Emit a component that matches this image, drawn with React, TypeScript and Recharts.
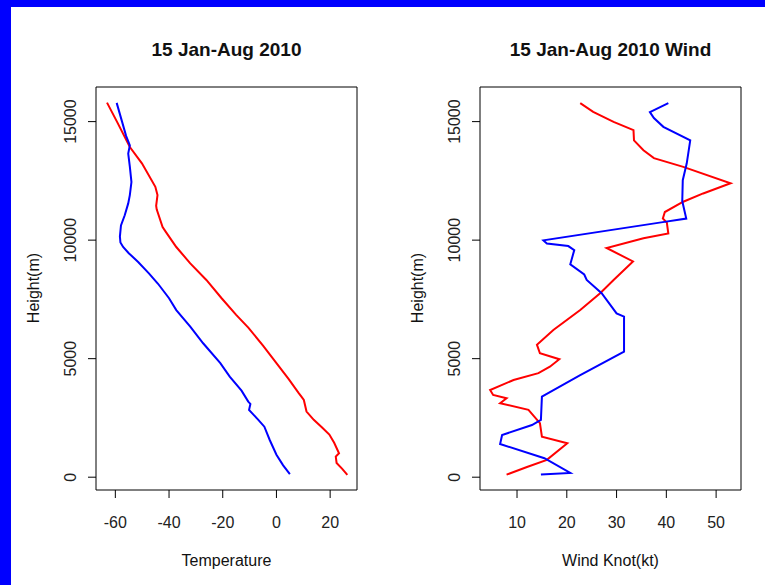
import React from "react";
import { ScatterChart, Scatter, XAxis, YAxis, ReferenceArea } from "recharts";

// temperature profile (deg C vs height m)
const tempRed = [
  [-63.1, 15800], [-59.4, 15000], [-54.6, 13930], [-50.1, 13240], [-45.1, 12250],
  [-44.3, 11900], [-44.8, 11450], [-44.6, 11300], [-42.4, 10550], [-41.2, 10350],
  [-37.3, 9710], [-32.1, 9020], [-26.1, 8320], [-20.5, 7560], [-15, 6850],
  [-10.4, 6300], [-5, 5550], [0, 4810], [4.5, 4150], [8.3, 3550], [9.3, 3400],
  [10.2, 3260], [11.2, 2770], [13.9, 2420], [17, 2100], [19.7, 1800], [21.5, 1450],
  [23.3, 1010], [22.1, 870], [22.4, 600], [24.5, 350], [26.4, 100],
];
const tempBlue = [
  [-59.5, 15790], [-57.5, 15000], [-56, 14400], [-54.6, 14000], [-55.2, 13650],
  [-54.6, 13100], [-54.0, 12450], [-54.6, 11900], [-55.2, 11550], [-56.5, 11050],
  [-57.9, 10620], [-58.3, 10150], [-58.1, 9900], [-57.1, 9710], [-55, 9450],
  [-51.5, 9080], [-47.5, 8600], [-44.1, 8160], [-40, 7550], [-37.3, 7050],
  [-32.1, 6350], [-27.3, 5650], [-20.9, 4810], [-17.4, 4240], [-13, 3650],
  [-10.5, 3190], [-9.7, 3090], [-10.2, 2840], [-7, 2450], [-4.5, 2130],
  [-2.5, 1570], [0, 950], [2.5, 500], [5, 130],
];

// wind profile (knots vs height m)
const windRed = [
  [22.7, 15780], [25.3, 15410], [29.4, 14990], [33.4, 14640], [33.5, 14210],
  [35.4, 13790], [37.5, 13460], [43.4, 13090], [52.9, 12400], [47.4, 11970],
  [43.4, 11620], [39.7, 11185], [39.3, 10910], [40.1, 10740], [40.4, 10280],
  [35.4, 10080], [28.0, 9670], [33.3, 9100], [29.4, 8320], [26.7, 7760],
  [22.7, 7050], [17.3, 6210], [14.0, 5590], [14.6, 5230], [18.5, 4975],
  [16.6, 4660], [14.3, 4390], [9.3, 4100], [4.6, 3680], [5.2, 3470], [7.9, 3330],
  [6.6, 3120], [12.3, 2840], [14.6, 2280], [15.0, 1710], [20.1, 1430],
  [16.0, 730], [12.0, 430], [7.9, 110],
];
const windBlue = [
  [40.4, 15780], [36.7, 15400], [37.5, 15150], [39.4, 14780], [44.8, 14210],
  [44.1, 13240], [43.3, 12530], [43.2, 11650], [44.0, 10910], [39.3, 10760],
  [15.3, 9990], [16.0, 9860], [20.3, 9750], [21.5, 9580], [20.7, 8980],
  [23.5, 8550], [24.0, 8320], [27.0, 7760], [30.0, 6910], [31.5, 6770],
  [31.5, 5300], [22.7, 4310], [15.0, 3400], [14.8, 2420], [13.0, 2200],
  [7.0, 1780], [6.6, 1400], [15.5, 800], [20.7, 180], [14.8, 110],
];

const heightTicks = [0, 5000, 10000, 15000];
const tempTicks = [-60, -40, -20, 0, 20];
const windTicks = [10, 20, 30, 40, 50];

const heightDomain = [-540, 16460];
const tempDomain = [-67.2, 30.0];
const windDomain = [2.56, 55.0];

const FONT = "'Liberation Sans', Arial, sans-serif";

const toRows = (arr: number[][]) => arr.map(([v, h]) => ({ v, h }));

const noDot = () => <g />;

const XTick = ({ x, payload }: any) => (
  <text x={x} y={528} textAnchor="middle" fontSize={16} fontFamily={FONT} fill="#222">
    {payload.value}
  </text>
);

const makeYTick = (lx: number) => ({ y, payload }: any) => (
  <text
    x={lx}
    y={y}
    transform={`rotate(-90, ${lx}, ${y})`}
    textAnchor="middle"
    fontSize={16}
    fontFamily={FONT}
    fill="#222"
  >
    {payload.value}
  </text>
);

interface PanelProps {
  left: number;
  width: number;
  axisW: number;
  xDomain: number[];
  xTicks: number[];
  red: number[][];
  blue: number[][];
}

const Panel = ({ left, width, axisW, xDomain, xTicks, red, blue }: PanelProps) => (
  <div style={{ position: "absolute", left, top: 0 }}>
    <ScatterChart
      width={width}
      height={585}
      margin={{ top: 87, right: width - axisW - 261, bottom: 0, left: 0 }}
    >
      <XAxis
        type="number"
        dataKey="v"
        domain={xDomain}
        ticks={xTicks}
        height={95}
        axisLine={false}
        tickSize={8}
        tickLine={{ stroke: "#000" }}
        tick={<XTick />}
        allowDataOverflow
      />
      <YAxis
        type="number"
        dataKey="h"
        domain={heightDomain}
        ticks={heightTicks}
        width={axisW}
        axisLine={false}
        tickSize={8}
        tickLine={{ stroke: "#000" }}
        tick={makeYTick(axisW - 20)}
        allowDataOverflow
      />
      <ReferenceArea
        x1={xDomain[0]}
        x2={xDomain[1]}
        y1={heightDomain[0]}
        y2={heightDomain[1]}
        fill="none"
        fillOpacity={0}
        stroke="#000"
        strokeWidth={1}
      />
      <Scatter
        data={toRows(red)}
        fill="#ff0000"
        line={{ stroke: "#ff0000", strokeWidth: 2 }}
        shape={noDot}
        isAnimationActive={false}
      />
      <Scatter
        data={toRows(blue)}
        fill="#0000ff"
        line={{ stroke: "#0000ff", strokeWidth: 2 }}
        shape={noDot}
        isAnimationActive={false}
      />
    </ScatterChart>
  </div>
);

export default function App() {
  return (
    <div style={{ position: "absolute", left: 0, top: 0, width: 765, height: 585, background: "#0000ff", overflow: "hidden" }}>
      <div style={{ position: "absolute", left: 11, top: 7, width: 754, height: 578, background: "#fff" }} />
      <Panel left={0} width={382} axisW={96} xDomain={tempDomain} xTicks={tempTicks} red={tempRed} blue={tempBlue} />
      <Panel left={382} width={383} axisW={98} xDomain={windDomain} xTicks={windTicks} red={windRed} blue={windBlue} />
      <svg width={765} height={585} style={{ position: "absolute", left: 0, top: 0, pointerEvents: "none" }}>
        <g fontFamily={FONT} fill="#111">
          <text x={226.5} y={56} textAnchor="middle" fontSize={19} fontWeight="bold">15 Jan-Aug 2010</text>
          <text x={610.5} y={56} textAnchor="middle" fontSize={19} fontWeight="bold">15 Jan-Aug 2010 Wind</text>
          <text x={226.5} y={566} textAnchor="middle" fontSize={16}>Temperature</text>
          <text x={610.5} y={566} textAnchor="middle" fontSize={16}>Wind Knot(kt)</text>
          <text x={39} y={288} transform="rotate(-90, 39, 288)" textAnchor="middle" fontSize={16}>Height(m)</text>
          <text x={423} y={288} transform="rotate(-90, 423, 288)" textAnchor="middle" fontSize={16}>Height(m)</text>
        </g>
      </svg>
    </div>
  );
}
